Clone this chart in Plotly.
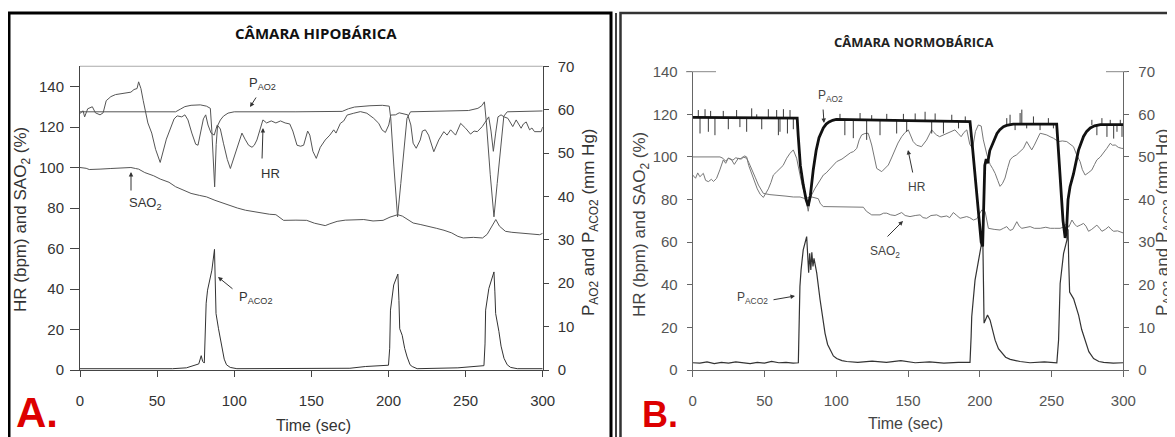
import plotly.graph_objects as go

# ---------------- panel A (hypobaric chamber) ----------------
a_hr_t = [0, 2, 3, 5, 8, 10, 13, 15, 17, 20, 23, 28, 33, 35, 37, 38, 39.5, 41, 42.5, 44, 46.5, 49, 52,
          54, 56, 59, 61, 63, 66, 68, 70, 72.5, 75, 76.5, 78.5, 80, 81.5, 83, 85, 87, 89, 91, 93, 95.5,
          97.5, 99.5, 101.7, 103, 105, 107, 109.3, 111.5, 113, 114.7, 116.9, 118.6, 121, 124, 127, 130,
          133, 136, 138, 140.7, 143, 145, 147.6, 149, 151, 153.2, 155.8, 159, 162, 164.5, 166, 168.8,
          171, 173.2, 177.5, 181.8, 186, 190.4, 193.7, 195.8, 198, 200.2, 201.5, 204.5, 207, 210, 212.5,
          214.5, 216, 218, 220.6, 222, 223.9, 226, 229.4, 232.6, 235.9, 238, 240.3, 243.5, 246.8, 250,
          253.2, 255.5, 257.6, 260.8, 263, 265, 266.5, 268, 269.5, 271, 273, 275, 277.4, 280.6, 282.8,
          284.5, 286, 287.5, 289.3, 291.5, 293, 294.7, 297, 299, 300]
a_hr = [126.7, 128, 125, 129, 130, 127, 126, 127, 133, 135, 136, 136.5, 137.2, 138.5, 139, 142.3, 139,
        133, 127, 122, 117, 109, 102.5, 108, 114, 120, 124, 125.5, 125, 126, 123.5, 117, 111.5, 111, 118,
        124, 126, 121, 117, 116, 121, 119, 112, 104, 99.5, 104, 109, 112, 117, 114, 111, 110, 111, 113.6,
        120, 123.5, 122, 123, 122, 123, 122, 121.5, 118, 111, 110.5, 111, 118, 116, 108, 104.5, 110,
        113.6, 116, 118.6, 117, 121.8, 123, 125.9, 126.8, 127.6, 126.8, 124.3, 121.8, 118.6, 117.3, 121,
        125.9, 126, 127, 126.5, 126, 121, 112, 109.5, 113.6, 118, 118.6, 116, 107.8, 113.6, 117.7, 116,
        118.6, 116, 121.8, 119.4, 116.5, 118, 117.7, 120.2, 122.7, 125, 118, 108, 117, 125, 126, 125,
        124.3, 120.2, 123.5, 121, 119.4, 121.5, 122.5, 118.6, 119.5, 117.7, 117.5, 117.7, 120]

a_sao2_t = [0, 4, 6, 10, 13, 20, 33, 36, 38, 42, 47.8, 52, 57.7, 62, 67.6, 72, 77.6, 82, 87.5, 92,
            97.4, 102, 107.3, 112, 118, 123, 127, 130, 132, 140, 147, 152, 159, 162, 166.7, 172, 178,
            184, 190, 196.5, 201, 206, 209, 212, 216, 221, 226, 231, 236, 241, 245, 248.5, 255, 261,
            264, 266.5, 269.6, 272, 275.8, 280, 285.7, 292, 298, 300]
a_sao2 = [100, 99.6, 99, 99, 99.2, 99.5, 100, 99.5, 99.2, 97.5, 95.9, 94.3, 92.7, 90.5, 88.6, 87.2,
          86.2, 85.5, 83.8, 82.5, 81.3, 80, 78.9, 78.2, 77.5, 76.9, 76.7, 75, 73.9, 74, 73.9, 72.5,
          71.3, 72.2, 73.4, 74, 74.3, 74.3, 73.6, 73.9, 75.5, 76.7, 76, 74.5, 72.6, 71.8, 71, 70, 69,
          67.7, 66, 65.2, 65.5, 65.2, 67, 70.5, 74.3, 71, 68.5, 68, 67.7, 67.2, 66.8, 67.5]

a_pao2_t = [0, 30, 62, 65, 68, 72, 78, 82, 84.5, 85.5, 86.5, 87.3, 88.3, 89.2, 91, 93, 96, 100, 140,
            170, 174, 178, 188, 196, 200.5, 201.5, 203.5, 205.9, 208, 210, 212, 214.3, 240, 252, 258,
            260.5, 262.2, 263.5, 266, 268.4, 270.5, 272.5, 274.8, 277, 300]
a_pao2 = [59.5, 59.5, 59.5, 60.1, 60.7, 61.0, 61.1, 60.8, 60.3, 55, 47, 42.2, 52, 56.3, 57.6, 58.5,
          59.2, 59.5, 59.5, 59.6, 60.2, 60.6, 60.9, 61.0, 60.8, 58, 47, 35.3, 43, 51, 58, 59.5, 59.6,
          59.8, 60.3, 60.9, 61.8, 57, 45, 35.3, 43, 51, 58.5, 59.5, 59.7]

a_paco2_t = [0, 60, 69, 74, 77, 78.6, 79.5, 80.6, 81.3, 81.8, 82.7, 84, 85.5, 87.2, 87.8, 88.2, 89.8,
             91, 92, 93.5, 95, 97.4, 101.7, 175, 185, 195, 200, 200.8, 201.3, 203.4, 205, 206.1, 206.8,
             207.3, 208.9, 210.5, 212.1, 214, 215.4, 218.6, 245, 253, 261.9, 262.6, 263, 265.1, 267,
             268.4, 269, 269.5, 271.6, 273, 274.9, 277, 279.2, 283.5, 300]
a_paco2 = [0.3, 0.3, 0.5, 1.0, 1.4, 3.3, 2.0, 1.6, 8, 15.4, 18.4, 20.5, 23, 27.8, 20, 13, 9.5, 7, 5,
           2.5, 1.2, 0.6, 0.3, 0.4, 0.8, 1, 1.1, 5, 13.8, 19.6, 21, 22.1, 16, 9.5, 8, 5, 3, 1.2, 0.8,
           0.3, 0.5, 0.8, 1, 6, 13.8, 18.8, 21, 22.6, 18, 13, 8.9, 5.5, 2.7, 1.2, 0.6, 0.3, 0.3]

# ---------------- panel B (normobaric chamber) ----------------
b_hr_t = [0, 2, 3.5, 5, 7.4, 9, 10.9, 13, 14.5, 16.6, 18.9, 21.3, 23, 24.8, 27.1, 29, 31.8, 34, 36,
          37.6, 39, 42.3, 45, 47, 49.2, 51, 52.7, 54.5, 56.2, 58.5, 60.8, 63, 65.5, 67.8, 70.1, 72.4,
          74.8, 76.5, 78.3, 80.5, 81.5, 82.9, 85, 88, 91, 93, 95.7, 98, 100.3, 104, 107.3, 110, 112,
          114.3, 116, 117.7, 120, 122.3, 124.7, 126.5, 128.2, 131.7, 134, 136.3, 138.5, 141, 143, 145.6,
          148, 150.2, 151.5, 153.6, 156, 159.4, 162.9, 166.5, 168, 169.9, 172, 174.6, 177, 179.3,
          182.7, 185, 187, 189, 191, 193, 195, 197, 199, 201, 202.5, 205, 207.2, 209, 210.7, 212.5,
          214.1, 215.8, 217.6, 219.5, 221.1, 223, 225.7, 228, 230.4, 232.7, 234.5, 236.2, 238, 239.7,
          242, 244, 246.7, 249, 251.3, 254.8, 257.5, 260.6, 263, 265.3, 267.5, 269.9, 271.5, 273.4,
          275.5, 278.1, 280, 281.6, 284, 286.2, 288.5, 290.9, 292.5, 294.4, 296.5, 299, 300]
b_hr = [91.5, 90, 92.5, 90.7, 92.3, 89, 88.4, 89.5, 88.5, 89.9, 93.9, 98.6, 97, 99.4, 98.6, 96.5, 99.4,
        99, 100.5, 100, 96, 89.9, 85, 82.5, 81, 83, 85, 88, 91.5, 93, 94.6, 96, 99.4, 101.7, 103.3,
        99.4, 91.5, 86, 82.2, 74.5, 79, 82.2, 85, 88.5, 91.5, 92.5, 94.6, 96, 97.8, 99, 100.9, 102,
        102.5, 104, 108, 110.3, 111, 111.1, 105.6, 99, 94.6, 93.1, 94.5, 96.2, 99.5, 103.3, 106.5,
        109.5, 111.5, 112.7, 110.5, 107.2, 105.5, 104.8, 107.9, 112.7, 111.5, 110.3, 109.5, 110.3, 111,
        111.9, 112.7, 111, 109.5, 111.5, 112.7, 106, 104, 112, 115, 114.5, 108, 101, 96.5, 94.5, 92.3,
        89, 86.2, 87.5, 90.1, 95, 98.6, 100, 101, 102.5, 104, 107.2, 105, 103.3, 105.5, 108, 111.1,
        110.8, 110.3, 109.5, 108.8, 107.2, 107.5, 107.2, 106, 104.8, 101, 97.8, 94, 91.5, 92.5, 93.9,
        96.5, 98.6, 100, 101.7, 104, 106.4, 105.5, 105.6, 104.5, 104, 104]

b_sao2_t = [0, 10, 19, 21, 23, 25, 28, 30, 33, 35, 37.6, 39, 41.1, 43.5, 45.8, 47.5, 49.2, 53.8, 60.8,
            65, 70.1, 74.8, 78, 83, 87.5, 89, 91, 98, 108, 114, 118.9, 121, 124.7, 130.5, 133, 135.2,
            138, 141, 145.6, 148, 151.4, 155, 158.4, 160.5, 163, 166, 170, 173, 177, 179, 181.6, 184,
            186.3, 190.9, 193, 195.6, 198, 200, 201.4, 203.7, 205, 206, 210, 214.1, 216.5, 218.8, 221,
            223, 225.8, 227.5, 229.3, 232, 235.1, 238, 242.1, 246, 249.1, 252, 256, 258, 260.7, 262,
            264.2, 266, 267.7, 270, 272.3, 274, 275.8, 278, 281.6, 283.5, 285.1, 287.5, 289.8, 291.5,
            293.3, 296, 299.1, 300]
b_sao2 = [100, 100, 100, 99.4, 98, 99.5, 98.5, 99.6, 99, 100, 99.4, 97.5, 94.6, 90.5, 86.8, 84.5, 82.9,
          82.3, 82, 81.6, 81.2, 81.2, 80.5, 81.2, 80.4, 78, 76.7, 76.7, 76.5, 76.4, 76.4, 74.5, 72.8,
          72.8, 73.6, 73.6, 72.8, 72.5, 73.9, 72.5, 72, 72.5, 72.8, 71.5, 71.2, 72.5, 72.8, 71.8, 72.3,
          71.5, 73.9, 72.5, 71.2, 72, 71.5, 70.4, 71, 73.5, 75.1, 74.4, 70, 66.5, 66, 65.7, 66.5, 67.3,
          65.5, 66, 69.6, 67.5, 66.5, 67, 67.3, 66.5, 66.5, 67, 66.5, 66.5, 66.5, 67, 68.8, 67, 70.4,
          68.5, 67.3, 68, 68.8, 67.5, 65.1, 66, 68, 66.5, 65.1, 66, 67.3, 66, 65.1, 65.3, 64.3, 64.3]

# thick P_AO2 trace (without the spikes)
b_pao2_t = [0, 72.8, 73.5, 75, 77, 79, 80.5, 82, 84, 86, 88, 91, 93, 95, 97.5, 100, 150, 193.2, 195,
            197, 199, 201, 202, 202.8, 203.5, 204.5, 205.5, 207, 209.5, 212, 214, 216.5, 218.7, 223.3,
            253.6, 255, 256.5, 258, 259.5, 260.5, 261.5, 262.9, 265.3, 268.8, 272.3, 274.5, 277, 280,
            284, 300]
b_pao2 = [59.3, 59.1, 55, 48, 43.5, 40, 38.5, 41, 47, 51.5, 54.5, 56.8, 57.7, 58.2, 58.6, 58.8, 58.5,
          58.3, 52, 44, 36, 30, 29, 38, 48, 49.5, 48.5, 51.5, 53.6, 55.5, 56.4, 57.1, 57.4, 57.7, 57.7,
          50, 42, 35, 31, 33, 40, 43, 46, 51.6, 54.8, 56, 56.8, 57.3, 57.6, 57.6]

# thin noise spikes on the P_AO2 plateaus: time, plateau level, spike tip
b_spike_t = [3.9, 5.1, 8.6, 10.9, 12.5, 15.5, 21.3, 24.8, 30.6, 32.9, 37.6, 41.1, 44.6, 48.1, 52.7,
             58.5, 59.7, 60.8, 63.2, 66, 67.8, 70.1,
             102.6, 106, 111.9, 116.6, 121.2, 124.7, 130.5, 135.2, 142.1, 146.8, 149.1, 155, 161.9,
             166.5, 168.9, 174.7, 180.5, 185.2, 189.9,
             218.8, 221.1, 224.6, 228.1, 229.3, 232.7, 237.4, 242, 247.8, 251.3,
             278.1, 281.6, 285.1, 288.6, 290.9, 293.3, 295.6, 297.9, 299.1]
b_spike_base = [59.3] * 22 + [58.7] * 10 + [58.4] * 9 + [57.7] * 10 + [57.5] * 9
b_spike_tip = [61, 55.5, 61.2, 55.9, 60.8, 55.1, 60.8, 56.5, 61, 57, 55.9, 61.4, 60, 56.5, 61.2, 61,
               55.1, 55.9, 61.2, 55.5, 61, 56.5,
               60.1, 55.1, 54.4, 60.3, 54, 59.8, 55.1, 60.1, 55.5, 60.1, 55.9, 60.2, 60.6, 55.5, 60.2,
               55.5, 59.9, 56.7, 59.5,
               59.1, 59.9, 56.3, 60.3, 61.1, 56.7, 59.5, 56.3, 59.1, 56.7,
               58.7, 55.1, 59.1, 54.7, 58.7, 54.3, 55.9, 58.7, 54.7]

b_paco2_t = [0, 5, 10, 15, 20, 25, 30, 35, 40, 45, 50, 55, 60, 65, 70, 73.6, 74, 74.7, 75.5, 77,
             79.4, 80.2, 80.8, 81.5, 82.3, 83, 83.8, 84.5, 86.4, 88.7, 90.5, 92.2, 94, 95.7, 98, 100.3,
             104, 107.3, 115, 125, 135, 145, 155, 165, 175, 185, 193.2, 194, 194.4, 196.7, 198.5,
             200.2, 202.1, 202.6, 203, 204, 205.4, 207.2, 209, 210.7, 213, 215.4, 218, 221.2, 228.1,
             235, 245, 253.7, 254.9, 256, 258.4, 260.7, 261.5, 262, 262.6, 265.4, 267, 268.9, 271,
             273.5, 276, 279.3, 283, 286.3, 293, 300]
b_paco2 = [1.7, 1.6, 1.9, 1.5, 1.8, 1.6, 1.9, 1.7, 1.5, 1.8, 1.6, 2.0, 1.7, 1.8, 1.6, 1.7, 9.4, 19.6,
           23.5, 28.2, 31.3, 26, 22.8, 27.4, 23.5, 27.6, 24.3, 26.2, 22.8, 16.6, 12, 8.6, 6, 4.7, 3.3,
           2.7, 2.2, 2.0, 1.8, 2.1, 1.8, 2.2, 1.7, 1.9, 1.6, 1.8, 1.8, 8, 12.5, 21.1, 24.5, 27.4, 31.3,
           20, 11, 11.8, 12.9, 11.7, 9.5, 7, 5, 3.9, 3, 2.5, 2, 1.7, 1.9, 1.7, 7, 20.3, 27.4, 30.5, 33,
           25, 18.3, 16.7, 15, 12.8, 9.5, 6.6, 4.3, 2.7, 2, 1.8, 1.6, 1.7]

x_ticks = [0, 50, 100, 150, 200, 250, 300]

W, H = 1175, 437
OFF = 8  # the page body has an 8px margin; positions below are in screenshot pixels


def px(x):
    return (x - OFF) / W


def py(y):
    return 1 - (y - OFF) / H


fig = go.Figure()

thin = dict(color="#555555", width=1)
fig.add_trace(go.Scatter(x=a_sao2_t, y=a_sao2, mode="lines", line=thin, xaxis="x", yaxis="y"))
fig.add_trace(go.Scatter(x=a_hr_t, y=a_hr, mode="lines", line=thin, xaxis="x", yaxis="y"))
fig.add_trace(go.Scatter(x=a_pao2_t, y=a_pao2, mode="lines", line=thin, xaxis="x", yaxis="y2"))
fig.add_trace(go.Scatter(x=a_paco2_t, y=a_paco2, mode="lines", line=dict(color="#333333", width=1),
                         xaxis="x", yaxis="y2"))

fig.add_trace(go.Scatter(x=b_sao2_t, y=b_sao2, mode="lines", line=dict(color="#777777", width=1),
                         xaxis="x2", yaxis="y3"))
fig.add_trace(go.Scatter(x=b_hr_t, y=b_hr, mode="lines", line=dict(color="#777777", width=1),
                         xaxis="x2", yaxis="y3"))
fig.add_trace(go.Scatter(x=b_paco2_t, y=b_paco2, mode="lines", line=dict(color="#333333", width=1.2),
                         xaxis="x2", yaxis="y4"))

spike_x, spike_y = [], []
for t, base, tip in zip(b_spike_t, b_spike_base, b_spike_tip):
    spike_x += [t, t, None]
    spike_y += [base, tip, None]
fig.add_trace(go.Scatter(x=spike_x, y=spike_y, mode="lines", line=dict(color="#222222", width=0.9),
                         xaxis="x2", yaxis="y4"))
fig.add_trace(go.Scatter(x=b_pao2_t, y=b_pao2, mode="lines", line=dict(color="#111111", width=2.8),
                         xaxis="x2", yaxis="y4"))

tick_font_a = dict(family="Liberation Sans, Arial", size=15, color="#333333")
tick_font_b = dict(family="Liberation Sans, Arial", size=15, color="#555555")
ax_common = dict(showgrid=False, zeroline=False, showline=True, ticks="outside", fixedrange=True,
                 automargin=False)

fig.update_layout(
    template="none",
    width=W, height=H, margin=dict(l=0, r=0, t=0, b=0, pad=0, autoexpand=False),
    paper_bgcolor="white", plot_bgcolor="white", showlegend=False,
    xaxis=dict(domain=[px(80), px(542.7)], range=[0, 300], tickvals=x_ticks, anchor="y",
               linecolor="#444444", ticklen=6, tickcolor="#444444", tickfont=tick_font_a,
               ticklabelstandoff=11, **ax_common),
    yaxis=dict(domain=[py(370), py(66.25)], range=[0, 150], tickvals=[0, 20, 40, 60, 80, 100, 120, 140],
               anchor="x", linecolor="#444444", ticklen=9, tickcolor="#444444", tickfont=tick_font_a,
               ticklabelstandoff=3, **ax_common),
    yaxis2=dict(range=[0, 70], tickvals=[0, 10, 20, 30, 40, 50, 60, 70], overlaying="y", side="right",
                anchor="x", linecolor="#444444", ticklen=5, tickcolor="#444444", tickfont=tick_font_a,
                ticklabelstandoff=6, **ax_common),
    xaxis2=dict(domain=[px(692.7), px(1123.3)], range=[0, 300], tickvals=x_ticks, anchor="y3",
                linecolor="#666666", ticklen=6, tickcolor="#666666", tickfont=tick_font_b,
                ticklabelstandoff=11, **ax_common),
    yaxis3=dict(domain=[py(370), py(71.7)], range=[0, 140], tickvals=[0, 20, 40, 60, 80, 100, 120, 140],
                anchor="x2", linecolor="#666666", ticklen=5, tickcolor="#666666", tickfont=tick_font_b,
                ticklabelstandoff=6, **ax_common),
    yaxis4=dict(range=[0, 70], tickvals=[0, 10, 20, 30, 40, 50, 60, 70], overlaying="y3", side="right",
                anchor="x2", linecolor="#666666", ticklen=5, tickcolor="#666666", tickfont=tick_font_b,
                ticklabelstandoff=6, **ax_common),
)

shapes = [
    # panel frames
    dict(type="rect", xref="paper", yref="paper", x0=px(9), x1=px(611), y0=py(460), y1=py(13),
         line=dict(color="black", width=3)),
    dict(type="line", xref="paper", yref="paper", x0=px(616), x1=px(616), y0=py(460), y1=py(13),
         line=dict(color="black", width=1.5)),
    dict(type="rect", xref="paper", yref="paper", x0=px(620.5), x1=px(1200), y0=py(460), y1=py(13),
         line=dict(color="#333333", width=2.5)),
    # top border of plot A
    dict(type="line", xref="paper", yref="paper", x0=px(80), x1=px(542.7), y0=py(66.25), y1=py(66.25),
         line=dict(color="#aaaaaa", width=1)),
    # long top ticks of plot B
    dict(type="line", xref="paper", yref="paper", x0=px(686), x1=px(716), y0=py(71.7), y1=py(71.7),
         line=dict(color="#888888", width=1)),
    dict(type="line", xref="paper", yref="paper", x0=px(1106), x1=px(1127), y0=py(71.7), y1=py(71.7),
         line=dict(color="#888888", width=1)),
]
fig.update_layout(shapes=shapes)

ann = []


def text(x, y, s, size=13, color="#333333", family="Liberation Sans, Arial", angle=0, bold=False):
    ann.append(dict(xref="paper", yref="paper", x=px(x), y=py(y), text=f"<b>{s}</b>" if bold else s,
                    showarrow=False, xanchor="center", yanchor="middle", textangle=angle,
                    font=dict(size=size, color=color, family=family)))


def arrow(x0, y0, x1, y1, color="#333333"):
    ann.append(dict(xref="paper", yref="paper", x=px(x1), y=py(y1), ax=x0 - x1, ay=y0 - y1,
                    axref="pixel", ayref="pixel", text="", showarrow=True, arrowhead=2,
                    arrowsize=0.9, arrowwidth=1, arrowcolor=color, standoff=0, startstandoff=0))


# titles
text(316, 33, "CÂMARA HIPOBÁRICA", size=15, color="#111111", family="Open Sans", bold=True)
text(913, 42, "CÂMARA NORMOBÁRICA", size=13, color="#222222", family="Open Sans", bold=True)

# axis titles
text(22, 220, "HR (bpm) and SAO<sub>2</sub> (%)", size=17, angle=-90)
text(590, 222, "P<sub>AO2</sub> and P<sub>ACO2</sub> (mm Hg)", size=17, angle=-90)
text(313, 425, "Time (sec)", size=16)
text(641, 225, "HR (bpm) and SAO<sub>2</sub> (%)", size=17, color="#444444", angle=-90)
text(1164, 222, "P<sub>AO2</sub> and P<sub>ACO2</sub> (mm Hg)", size=17, color="#444444", angle=-90)
text(905, 423, "Time (sec)", size=16, color="#444444")

# panel letters
text(37, 412, "A.", size=42, color="#dd0000", family="Liberation Sans, Arial", bold=True)
text(660, 414, "B.", size=36, color="#dd0000", family="Liberation Sans, Arial", bold=True)

# series labels, panel A
text(262, 83, "P<sub>AO2</sub>", size=13)
arrow(257, 96, 250, 107)
text(270, 173, "HR", size=13)
arrow(262, 160, 263, 128)
text(145, 203, "SAO<sub>2</sub>", size=13)
arrow(131, 192, 131, 172)
text(255, 297, "P<sub>ACO2</sub>", size=13)
arrow(234, 290, 218, 277)

# series labels, panel B
text(830, 96, "P<sub>AO2</sub>", size=12, color="#444444")
arrow(823, 108, 824, 123)
text(917, 187, "HR", size=12, color="#444444")
arrow(913, 174, 908, 150)
text(885, 252, "SAO<sub>2</sub>", size=12, color="#444444")
arrow(886, 238, 903, 221)
text(752, 298, "P<sub>ACO2</sub>", size=12, color="#444444")
arrow(772, 300, 795, 296)

fig.update_layout(annotations=ann)

fig.write_html("out.html")
